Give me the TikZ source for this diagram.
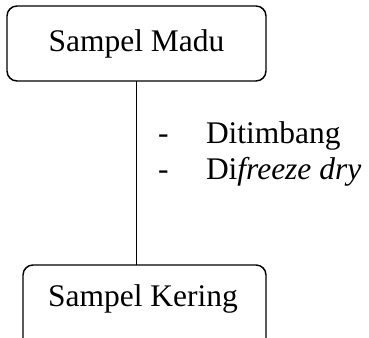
\documentclass[tikz,border=0pt]{standalone}
\usepackage{fontspec}
\setmainfont{Liberation Serif}
\begin{document}
\begin{tikzpicture}[x=0.75pt,y=-0.75pt,
  font=\fontsize{23.6}{28}\selectfont,
  box/.style={draw, rounded corners=7.5pt, line width=1.1pt, inner sep=0pt, outer sep=0pt},
  txt/.style={inner sep=0pt, outer sep=0pt}]
\useasboundingbox (0,0) rectangle (369,338);
\clip (0,0) rectangle (369,338);
\node[box, minimum width=194.25pt, minimum height=56.25pt] (top) at (136.5,43.5) {Sampel Madu};
\node[box, minimum width=182.25pt, minimum height=67.5pt] (bot) at (144.5,310) {};
\node[txt, anchor=base] (botlabel) at (143,307) {Sampel Kering};
\draw[line width=1.1pt] (top.south) -- (top.south |- bot.north);
\node[txt, anchor=base west] (d1) at (158,144) {-};
\node[txt, anchor=base west] (t1) at (206,144) {Ditimbang};
\node[txt, anchor=base west] (d2) at (158,180) {-};
\node[txt, anchor=base west] (t2) at (206,180) {Di\textit{freeze dry}};
\end{tikzpicture}
\end{document}
